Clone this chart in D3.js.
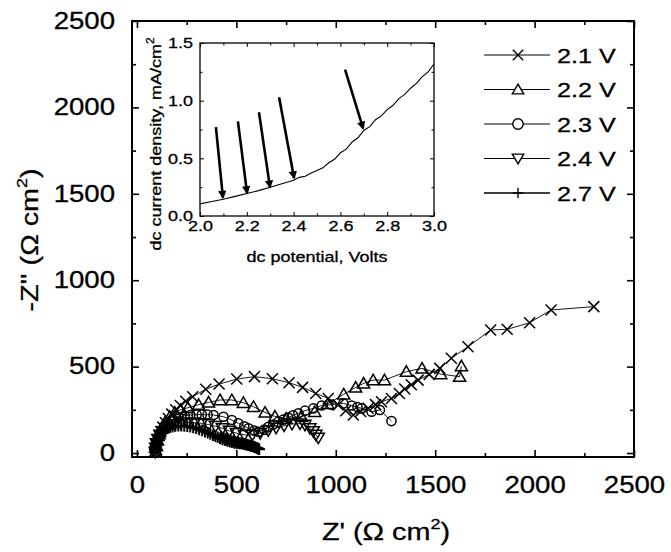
<!DOCTYPE html>
<html>
<head>
<meta charset="utf-8">
<script src="https://cdn.jsdelivr.net/npm/d3@7"></script>
<style>
body { margin: 0; background: #fff; }
svg { display: block; font-family: "Liberation Sans", Arial, sans-serif; }
svg text { stroke: #000; stroke-width: 0.3px; }
</style>
</head>
<body>
<div id="chart"></div>
<script>
// Nyquist plots at several dc potentials, Z' / -Z'' in ohm cm^2
const seriesNames = ['2.1 V', '2.2 V', '2.3 V', '2.4 V', '2.7 V'];
const seriesMarks = ['x', 'tu', 'o', 'td', '+'];

const s21 = [[95,5],[97,25],[100,50],[105,75],[112,100],[120,125],[130,150],[143,175],[158,200],[175,225],[195,250],[218,275],[245,300],[280,326],[346,369],[413,399],[502,428],[591,442],[681,430],[765,407],[833,380],[899,345],[962,316],[1012,278],[1050,245],[1088,220],[1125,240],[1163,259],[1200,280],[1230,297],[1280,316],[1320,345],[1347,370],[1380,395],[1414,422],[1470,455],[1523,490],[1581,548],[1665,615],[1779,712],[1862,716],[1975,754],[2083,828],[2298,847]];
const s22 = [[95,8],[98,40],[103,75],[112,110],[125,145],[142,180],[165,210],[190,235],[220,250],[256,262],[310,280],[360,293],[418,307],[477,307],[535,291],[586,268],[644,235],[694,212],[750,200],[828,210],[894,239],[960,285],[1040,340],[1100,380],[1140,403],[1188,422],[1245,422],[1355,471],[1434,490],[1528,457],[1623,442],[1632,503]];
const s23 = [[95,5],[98,30],[103,60],[110,90],[120,120],[135,150],[155,175],[180,195],[210,208],[240,215],[268,220],[300,222],[326,222],[355,222],[385,220],[435,210],[477,191],[510,172],[540,155],[561,143],[590,130],[611,123],[640,135],[661,152],[685,165],[711,180],[736,193],[761,205],[785,218],[812,230],[845,245],[887,258],[929,275],[979,280],[1038,287],[1080,275],[1109,266],[1130,258],[1180,239],[1222,249],[1280,185]];
const s24 = [[92,5],[94,30],[98,55],[105,80],[115,105],[128,125],[145,142],[165,155],[190,165],[220,172],[255,176],[290,176],[325,172],[360,165],[395,155],[430,142],[465,128],[500,115],[540,105],[580,105],[620,115],[660,130],[700,145],[740,158],[780,168],[820,170],[845,162],[870,143],[887,125],[900,105],[912,88]];
const s27 = [[88,5],[89,20],[91,35],[94,50],[98,65],[103,80],[109,94],[116,107],[124,118],[133,128],[143,136],[154,143],[166,149],[179,153],[193,156],[208,158],[223,158],[238,157],[253,155],[268,152],[283,148],[298,143],[313,137],[328,131],[342,124],[356,117],[369,110],[382,103],[394,97],[406,91],[418,85],[424,95],[430,79],[436,88],[442,74],[448,82],[454,70],[460,78],[466,66],[472,72],[478,62],[484,68],[490,59],[496,64],[502,57],[508,61],[514,56],[520,58],[526,54],[532,55],[538,52],[544,50],[550,49],[556,47],[562,45],[568,43],[574,41],[580,39],[586,37],[592,34],[597,32],[602,29],[607,27],[611,24],[615,22]];
const allSeries = [s21, s22, s23, s24, s27];

const xTicks = [0, 500, 1000, 1500, 2000, 2500];
const xMinor = [250, 750, 1250, 1750, 2250];
const yTicks = [0, 500, 1000, 1500, 2000, 2500];
const yMinor = [250, 750, 1250, 1750, 2250];

// inset: dc polarization curve
const dcPotential = [2.00,2.05,2.10,2.15,2.20,2.25,2.30,2.35,2.40,2.425,2.45,2.475,2.50,2.525,2.55,2.575,2.60,2.625,2.65,2.675,2.70,2.725,2.75,2.775,2.80,2.825,2.85,2.875,2.90,2.925,2.95,2.975,3.00];
const dcCurrent   = [0.105,0.125,0.145,0.170,0.195,0.220,0.250,0.280,0.310,0.335,0.345,0.372,0.395,0.418,0.462,0.492,0.548,0.580,0.642,0.678,0.742,0.775,0.835,0.868,0.922,0.960,1.018,1.055,1.108,1.150,1.208,1.250,1.318];
const arrowFrom = [[2.068,0.77],[2.162,0.82],[2.252,0.90],[2.338,1.03],[2.62,1.27]];
const arrowTo   = [[2.098,0.16],[2.201,0.20],[2.299,0.25],[2.402,0.33],[2.697,0.76]];
const insetXTicks = [2.0, 2.2, 2.4, 2.6, 2.8, 3.0];
const insetXMinor = [2.1, 2.3, 2.5, 2.7, 2.9];
const insetYTicks = [0, 0.5, 1.0, 1.5];
const insetYMinor = [0.25, 0.75, 1.25];

const W = 671, H = 552;
const STRETCH = 1.2;

const svg = d3.select('#chart').append('svg').attr('width', W).attr('height', H);

const x = d3.scaleLinear().domain([-25, 2500]).range([132, 634]);
const y = d3.scaleLinear().domain([-23, 2500]).range([457, 21]);

function frameAxes(g, x, y, o) {
  const [xl, xr] = x.range(), [yb, yt] = y.range();
  const ax = (gen, tx, ty, vals, size, fmt, pad) => {
    const a = g.append('g').attr('transform', `translate(${tx},${ty})`)
      .call(gen.tickValues(vals).tickSizeInner(-size).tickSizeOuter(0)
        .tickPadding(pad).tickFormat(fmt));
    a.select('.domain').remove();
    a.attr('font-size', o.font).attr('font-family', null);
    a.selectAll('line').attr('stroke-width', o.tickW);
    return a;
  };
  const none = () => '';
  ax(d3.axisBottom(x), 0, yb, o.xMajor, o.major, o.fx, o.padX);
  ax(d3.axisBottom(x), 0, yb, o.xMinor, o.minor, none, 0);
  ax(d3.axisTop(x), 0, yt, o.xMajor, o.major, none, 0);
  ax(d3.axisTop(x), 0, yt, o.xMinor, o.minor, none, 0);
  ax(d3.axisLeft(y), xl, 0, o.yMajor, o.major, o.fy, o.padY);
  ax(d3.axisLeft(y), xl, 0, o.yMinor, o.minor, none, 0);
  ax(d3.axisRight(y), xr, 0, o.yMajor, o.major, none, 0);
  ax(d3.axisRight(y), xr, 0, o.yMinor, o.minor, none, 0);
  g.append('rect').attr('x', xl).attr('y', yt).attr('width', xr - xl).attr('height', yb - yt)
    .attr('fill', 'none').attr('stroke', '#000').attr('stroke-width', o.frameW);
}

function markPath(type, s) {
  if (type === 'x') return `M${-s},${-s}L${s},${s}M${-s},${s}L${s},${-s}`;
  if (type === '+') return `M${-s},0L${s},0M0,${-s}L0,${s}`;
  if (type === 'tu') return `M0,${-s * 1.05}L${s * 1.1},${s * 0.85}L${-s * 1.1},${s * 0.85}Z`;
  if (type === 'td') return `M0,${s * 1.05}L${s * 1.1},${-s * 0.85}L${-s * 1.1},${-s * 0.85}Z`;
  return `M${s},0A${s},${s} 0 1,1 ${-s},0A${s},${s} 0 1,1 ${s},0Z`;
}
const markSize = { 'x': 5.5, '+': 5.8, 'tu': 5.5, 'td': 5.5, 'o': 4.6 };

// main frame
const main = svg.append('g');
frameAxes(main, x, y, {
  xMajor: xTicks, xMinor: xMinor, yMajor: yTicks, yMinor: yMinor,
  major: 7, minor: 4, font: 23, padX: 20, padY: 17, tickW: 1.6, frameW: 2,
  fx: d3.format('d'), fy: d3.format('d')
});

// data
const line = d3.line().x(d => x(d[0])).y(d => y(d[1]));
allSeries.forEach((data, i) => {
  const g = main.append('g');
  g.append('path').attr('d', line(data)).attr('fill', 'none')
    .attr('stroke', '#000').attr('stroke-width', 0.9);
  g.selectAll('path.m').data(data).enter().append('path').attr('class', 'm')
    .attr('transform', d => `translate(${x(d[0])},${y(d[1])})`)
    .attr('d', markPath(seriesMarks[i], markSize[seriesMarks[i]]))
    .attr('fill', 'none').attr('stroke', '#000')
    .attr('stroke-width', seriesMarks[i] === '+' ? 2 : 1.5);
});

// legend
const leg = main.append('g');
seriesNames.forEach((name, i) => {
  const ly = 55 + i * 34.5;
  leg.append('line').attr('x1', 484).attr('x2', 550).attr('y1', ly).attr('y2', ly)
    .attr('stroke', '#000').attr('stroke-width', i === 4 ? 1.6 : 1.1);
  leg.append('path').attr('transform', `translate(518,${ly})`)
    .attr('d', markPath(seriesMarks[i], 5.2))
    .attr('fill', '#fff').attr('stroke', '#000').attr('stroke-width', 1.4);
  leg.append('text').attr('x', 557).attr('y', ly).attr('dy', '0.36em')
    .attr('font-size', 21).text(name);
});

// axis titles
const xt = main.append('text').attr('x', 386).attr('y', 540).attr('text-anchor', 'middle').attr('font-size', 24);
xt.append('tspan').text("Z' (\u03A9 cm");
xt.append('tspan').attr('font-size', 15).attr('dy', -11).text('2');
xt.append('tspan').attr('dy', 11).text(')');

const yt = main.append('g').attr('transform', 'translate(38,240) rotate(-90)')
  .append('text').attr('text-anchor', 'middle').attr('font-size', 24);
yt.append('tspan').text("-Z'' (\u03A9 cm");
yt.append('tspan').attr('font-size', 15).attr('dy', -11).text('2');
yt.append('tspan').attr('dy', 11).text(')');

// inset
const xi = d3.scaleLinear().domain([2.0, 3.0]).range([200, 434]);
const yi = d3.scaleLinear().domain([0, 1.5]).range([216, 43]);
const inset = svg.append('g');
inset.append('rect').attr('x', 200).attr('y', 43).attr('width', 234).attr('height', 173).attr('fill', '#fff');

inset.append('path')
  .attr('d', d3.line().x(d => xi(d[0])).y(d => yi(d[1]))(dcPotential.map((v, i) => [v, dcCurrent[i]])))
  .attr('fill', 'none').attr('stroke', '#000').attr('stroke-width', 1.1);

frameAxes(inset, xi, yi, {
  xMajor: insetXTicks, xMinor: insetXMinor, yMajor: insetYTicks, yMinor: insetYMinor,
  major: 4, minor: 2.5, font: 15, padX: 4, padY: 7, tickW: 1, frameW: 1.3,
  fx: d3.format('.1f'), fy: d3.format('.1f')
});

svg.append('defs').append('marker').attr('id', 'ah')
  .attr('viewBox', '0 0 10 10').attr('refX', 8).attr('refY', 5)
  .attr('markerWidth', 3.6).attr('markerHeight', 3.2).attr('orient', 'auto')
  .append('path').attr('d', 'M0,0L10,5L0,10Z').attr('fill', '#000');

inset.selectAll('line.arrow').data(arrowFrom).enter().append('line').attr('class', 'arrow')
  .attr('x1', d => xi(d[0])).attr('y1', d => yi(d[1]))
  .attr('x2', (d, i) => xi(arrowTo[i][0])).attr('y2', (d, i) => yi(arrowTo[i][1]))
  .attr('stroke', '#000').attr('stroke-width', 2.6).attr('marker-end', 'url(#ah)');

inset.append('text').attr('x', 317).attr('y', 262).attr('text-anchor', 'middle')
  .attr('font-size', 15).text('dc potential, Volts');
const iyt = inset.append('g').attr('transform', 'translate(161,144) rotate(-90)')
  .append('text').attr('text-anchor', 'middle').attr('font-size', 15);
iyt.append('tspan').text('dc current density, mA/cm');
iyt.append('tspan').attr('font-size', 10).attr('dy', -7).text('2');

// horizontal stretch of all lettering, as in the scanned figure
svg.selectAll('text').each(function () {
  const a = getComputedStyle(this).textAnchor;
  const origin = a === 'end' ? 'right' : a === 'middle' ? 'center' : 'left';
  this.style.transformBox = 'fill-box';
  this.style.transformOrigin = origin + ' center';
  this.style.transform = `scaleX(${STRETCH})`;
});
</script>
</body>
</html>
